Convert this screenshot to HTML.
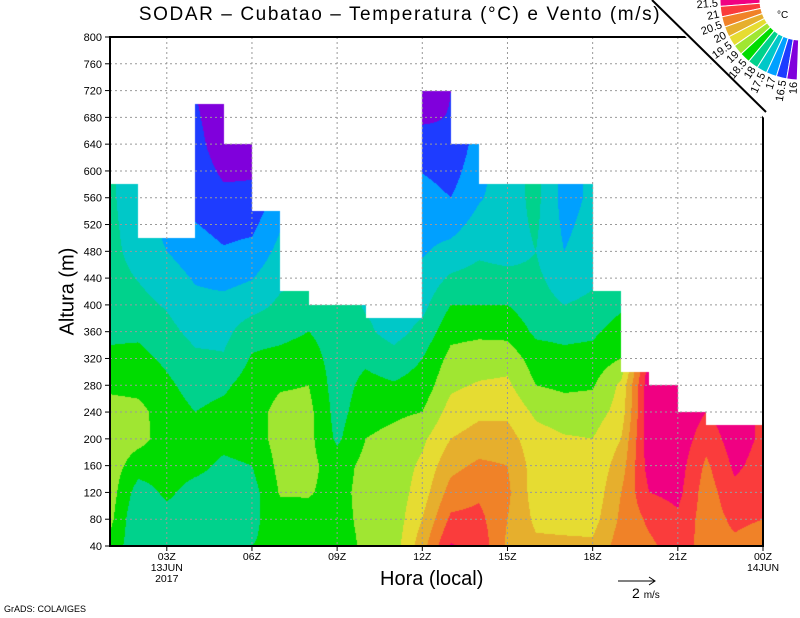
<!DOCTYPE html>
<html><head><meta charset="utf-8"><style>
body{margin:0;background:#fff;}
#wrap{position:relative;width:800px;height:618px;overflow:hidden;background:#fff;font-family:"Liberation Sans",sans-serif;}
.t{position:absolute;white-space:nowrap;color:#000;}
</style></head><body>
<div id="wrap">
<canvas id="field" width="653" height="509" style="position:absolute;left:110px;top:37px;"></canvas>
<svg id="ov" width="800" height="618" style="position:absolute;left:0;top:0;"></svg>
<div class="t" style="left:0;width:800px;text-align:center;top:4px;font-size:19px;letter-spacing:1.6px;">SODAR – Cubatao – Temperatura (°C) e Vento (m/s)</div>
<div class="t" style="left:380px;top:568px;font-size:20px;">Hora (local)</div>
<div class="t" style="left:18px;top:280px;font-size:20px;transform:rotate(-90deg);transform-origin:50% 50%;width:100px;text-align:center;">Altura (m)</div>
<div class="t" style="left:4px;top:604px;font-size:9px;">GrADS: COLA/IGES</div>
<div class="t" style="left:632px;top:585px;font-size:14px;">2 <span style="font-size:10px">m/s</span></div>
</div>
<script>
const hours=[1,2,3,4,5,6,7,8,9,10,11,12,13,14,15,16,17,18,19,20,21,22,23,24];
const heights=[40,80,120,160,200,240,280,320,360,400,480,560,640,720];
const tempCols=[
[18.8,19.15,19.25,19.25,19.25,19.2,18.9,18.6,18.4,18.25,18.15,18.1,18.1,18.1],
[18.15,18,18.25,18.75,19.15,19.15,18.85,18.65,18.4,18.15,17.8,17.65,17.65,17.65],
[18.3,18.3,18.6,18.75,18.8,18.75,18.6,18.4,18.15,17.95,17.5,17.25,17,16.75],
[18.25,18.25,18.3,18.65,18.75,18.5,18.3,18.1,17.85,17.65,17.25,16.8,16.65,16.5],
[18.2,18.2,18.25,18.4,18.65,18.65,18.4,18.05,17.85,17.65,17.05,16.6,16.25,16.15],
[18.5,18.4,18.3,18.5,18.75,18.8,18.75,18.55,18.3,17.8,17.15,16.6,16.3,16.25],
[18.6,18.75,19.05,19.15,19.2,19.15,18.95,18.65,18.35,18.1,17.65,17.25,17,17],
[18.65,18.8,19.05,19.15,19.15,19.15,19,18.75,18.5,18.2,18,18,18,18],
[18.75,18.8,18.8,18.75,18.4,18.3,18.25,18.25,18.25,18.25,18.15,18,18,18],
[19.1,19.15,19.2,19.15,19,18.8,18.65,18.4,18.1,17.95,17.75,17.5,17.5,17.5],
[19.25,19.2,19.2,19.2,19.15,18.9,18.55,18.2,17.8,17.8,17.65,17.5,17.5,17.5],
[20.3,20,19.75,19.6,19.4,19,18.7,18.5,18.15,17.85,17.45,17.25,16.7,16.15],
[21.55,21.1,20.7,20.35,20,19.7,19.4,19.15,18.85,18.5,17.65,17,16.55,16.5],
[21.35,21.15,20.9,20.6,20.2,19.9,19.55,19.25,18.9,18.5,17.9,17.45,17.25,17.25],
[20.4,20.5,20.6,20.5,20.2,19.9,19.6,19.3,18.85,18.5,17.8,17.75,17.75,17.75],
[20.1,19.9,19.75,19.75,19.7,19.4,19,18.75,18.4,18.2,18,18.15,18.15,18.15],
[20.1,19.85,19.75,19.7,19.55,19.25,18.9,18.65,18.35,18,17.5,17.3,17.3,17.3],
[20.1,19.8,19.65,19.6,19.5,19.25,18.95,18.7,18.4,18.1,17.75,17.6,17.6,17.6],
[20.75,20.6,20.5,20.25,20,19.7,19.6,19,18.75,18.4,18,18,18,18],
[20.9,21.1,21.5,21.75,21.85,21.9,21.9,21.75,21.5,21.5,21.5,21.5,21.5,21.5],
[21.25,21.4,21.65,21.75,21.85,21.9,21.9,21.9,21.9,21.9,21.9,21.9,21.9,21.9],
[20.8,20.75,20.75,20.9,21.2,21.5,21.5,21.5,21.5,21.5,21.5,21.5,21.5,21.5],
[20.9,21.1,21.35,21.6,21.75,21.8,21.8,21.8,21.8,21.8,21.8,21.8,21.8,21.8],
[20.75,21,21.25,21.3,21.4,21.4,21.4,21.4,21.4,21.4,21.4,21.4,21.4,21.4]
];
const tops=[580,500,500,700,640,540,420,400,400,380,380,720,640,580,580,580,580,420,300,280,240,220,220];
const levels=[16.5,17,17.5,18,18.5,19,19.5,20,20.5,21,21.5];
const colors=["#8000dc","#1e3cff","#00a0ff","#00c8c8","#00d28c","#00dc00","#a0e632","#e6dc32","#e6af2d","#f08228","#fa3c3c","#f00082"];
const legendLabels=["16","16.5","17","17.5","18","18.5","19","19.5","20","20.5","21","21.5"];
const yTicks=[40,80,120,160,200,240,280,320,360,400,440,480,520,560,600,640,680,720,760,800];
const xTickHours=[3,6,9,12,15,18,21,24];
const xTickLabels=["03Z","06Z","09Z","12Z","15Z","18Z","21Z","00Z"];
const xTickSub=[["13JUN","2017"],[],[],[],[],[],[],["14JUN"]];

const X0=110,X1=763,Y0=37,Y1=546;
function xOf(h){return X0+(h-hours[0])*(X1-X0)/(hours[hours.length-1]-hours[0]);}
function yOf(z){return Y1-(z-40)*(Y1-Y0)/(800-40);}
function hOf(x){return hours[0]+(x-X0)*(hours[hours.length-1]-hours[0])/(X1-X0);}
function zOf(y){return 40+(Y1-y)*(800-40)/(Y1-Y0);}
function colorOf(t){let i=0;while(i<levels.length&&t>=levels[i])i++;return colors[i];}
function interp(h,z){
  let i=Math.min(Math.max(Math.floor(h-hours[0]),0),hours.length-2);
  let fx=Math.min(Math.max(h-hours[i],0),1);
  let j=0;while(j<heights.length-2&&z>heights[j+1])j++;
  let fz=Math.min(Math.max((z-heights[j])/(heights[j+1]-heights[j]),0),1);
  const a=tempCols[i][j],b=tempCols[i+1][j],c=tempCols[i][j+1],d=tempCols[i+1][j+1];
  return (a*(1-fx)+b*fx)*(1-fz)+(c*(1-fx)+d*fx)*fz;
}
const ctx=document.getElementById('field').getContext('2d');
for(let py=0;py<509;py++){
  const z=zOf(Y0+py+0.5);
  let prev=null,start=0;
  for(let px=0;px<=653;px++){
    let col=null;
    if(px<653){
      const h=hOf(X0+px+0.5);
      const k=Math.min(Math.floor(h-hours[0]),tops.length-1);
      col=(z>tops[k])?null:colorOf(interp(h,z));
    }
    if(px===653||col!==prev){
      if(prev){ctx.fillStyle=prev;ctx.fillRect(start,py,px-start,1);}
      prev=col;start=px;
    }
  }
}
const NS="http://www.w3.org/2000/svg";
const svg=document.getElementById('ov');
function mk(tag,attrs){const e=document.createElementNS(NS,tag);for(const k in attrs)e.setAttribute(k,attrs[k]);svg.appendChild(e);return e;}
yTicks.forEach(z=>{
  const y=yOf(z);
  if(z>40&&z<800){const g=mk('line',{x1:X0,x2:X1,y1:y,y2:y,stroke:'#999','stroke-dasharray':'2,3','stroke-width':1});
  
  }
  const tk=mk('line',{x1:X0-5,x2:X0,y1:y,y2:y,stroke:'#000','stroke-width':1});
  
  
  const t=mk('text',{x:X0-8,y:y+4,'text-anchor':'end','font-size':11,'font-family':'Liberation Sans, sans-serif'});
  t.textContent=z;
  
  
});
xTickHours.forEach((h,i)=>{
  const x=xOf(h);
  if(h<24){const g=mk('line',{x1:x,x2:x,y1:Y0,y2:Y1,stroke:'#999','stroke-dasharray':'2,3','stroke-width':1});
  
  }
  const tk=mk('line',{x1:x,x2:x,y1:Y1,y2:Y1+5,stroke:'#000','stroke-width':1});
  
  
  [xTickLabels[i]].concat(xTickSub[i]).forEach((s,k)=>{
    const t=mk('text',{x:x,y:Y1+14+k*11,'text-anchor':'middle','font-size':10.5,'font-family':'Liberation Sans, sans-serif'});
    t.textContent=s;
    
    
  });
});
const fr=mk('rect',{x:X0,y:Y0,width:X1-X0,height:Y1-Y0,fill:'none',stroke:'#000','stroke-width':2});


const ra=mk('path',{d:'M618 581 L655 581 M649 577 L655 581 L649 585',stroke:'#000',fill:'none','stroke-width':1});


const bg=mk('path',{d:'M650 0 L800 0 L800 155 Z',fill:'#fff'});


const dl=mk('line',{x1:652,y1:0,x2:766,y2:112,stroke:'#000','stroke-width':2});


const cx=800,cy=0,r0=40,r1=80,n=colors.length;
const aStart=183,aEnd=92;
for(let i=0;i<n;i++){
  const ci=n-1-i;
  const a0=(aStart-(aStart-aEnd)*i/n)*Math.PI/180,a1=(aStart-(aStart-aEnd)*(i+1)/n)*Math.PI/180;
  const p=(r,a)=>(cx+r*Math.cos(a)).toFixed(1)+' '+(cy+r*Math.sin(a)).toFixed(1);
  const w=mk('path',{d:`M${p(r0,a0)} L${p(r1,a0)} A${r1} ${r1} 0 0 0 ${p(r1,a1)} L${p(r0,a1)} A${r0} ${r0} 0 0 1 ${p(r0,a0)} Z`,fill:colors[ci],stroke:'#fff','stroke-width':1});
  
  
  const lx=cx+(r1+2)*Math.cos(a1),ly=cy+(r1+2)*Math.sin(a1);
  const deg=a1*180/Math.PI-180;
  const t=mk('text',{x:lx,y:ly,'text-anchor':'end','font-size':11,'font-family':'Liberation Sans, sans-serif',transform:`rotate(${deg.toFixed(1)} ${lx.toFixed(1)} ${ly.toFixed(1)})`});
  t.textContent=legendLabels[ci];
  
  
}
const u=mk('text',{x:777,y:18,'font-size':10,'font-family':'Liberation Sans, sans-serif'});
u.textContent='°C';


</script>
</body></html>
